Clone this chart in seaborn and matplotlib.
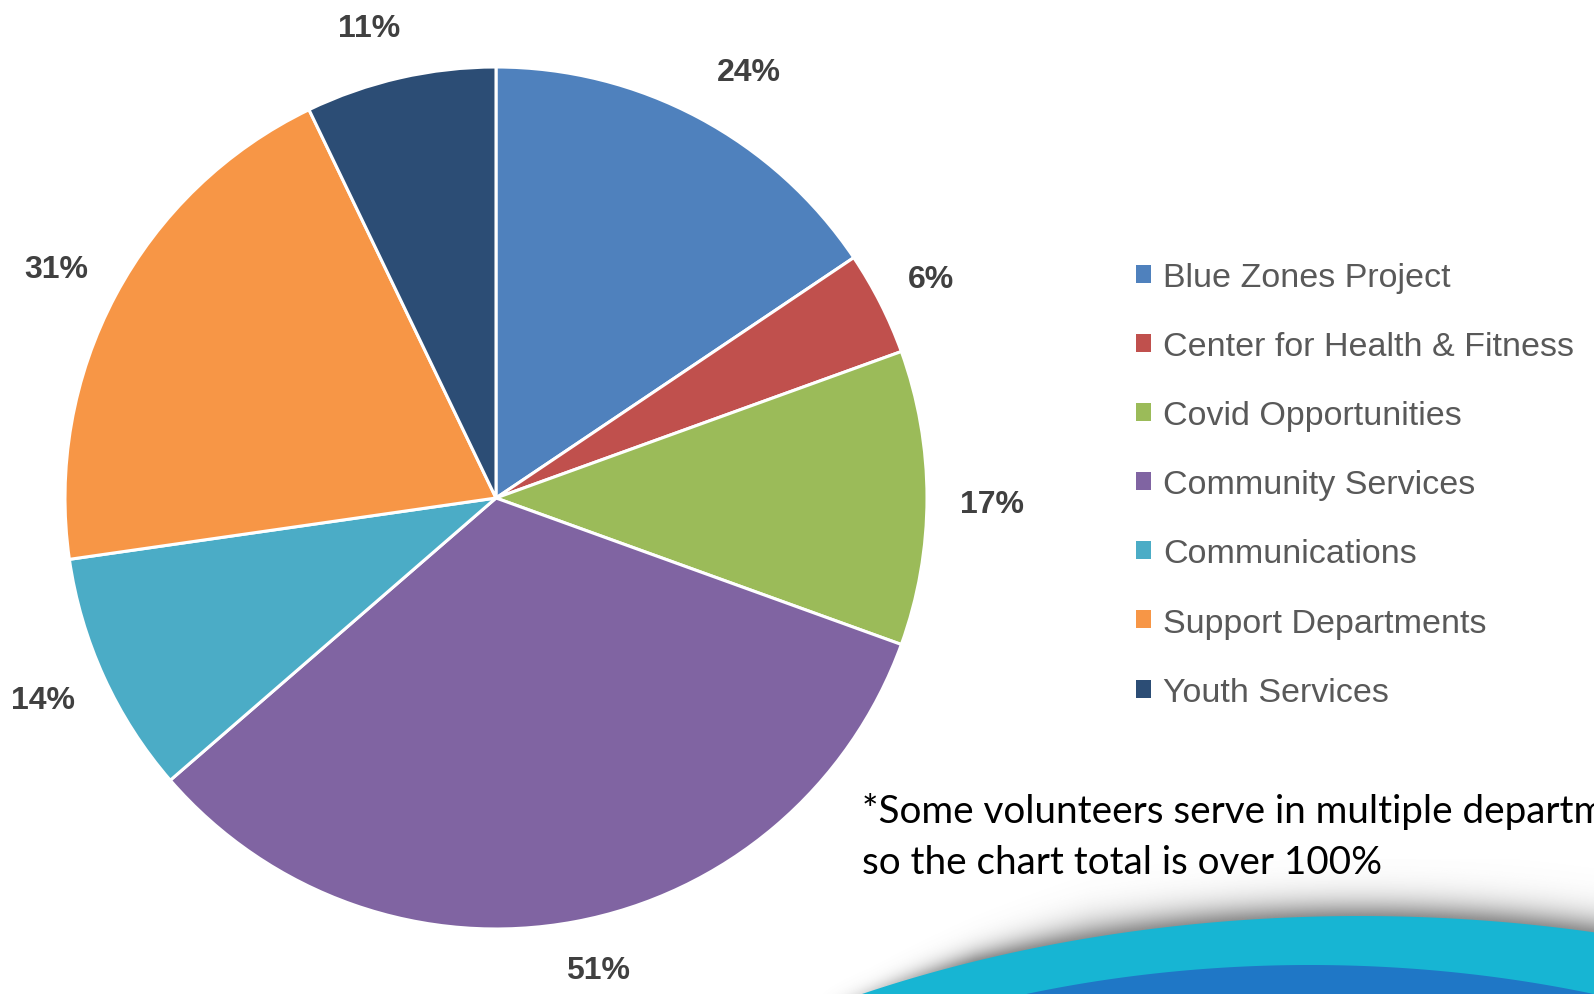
import matplotlib
matplotlib.use("Agg")
import numpy as np
import matplotlib.pyplot as plt
import seaborn as sns

# Volunteer share by department (a volunteer can count in several departments)
categories = [
    "Blue Zones Project",
    "Center for Health & Fitness",
    "Covid Opportunities",
    "Community Services",
    "Communications",
    "Support Departments",
    "Youth Services",
]
shares = [24, 6, 17, 51, 14, 31, 11]
share_labels = [f"{v}%" for v in shares]
slice_colors = ["#4F81BD", "#C0504D", "#9BBB59", "#8064A2", "#4BACC6", "#F79646", "#2C4D75"]
note_lines = [
    "*Some volunteers serve in multiple departments,",
    "so the chart total is over 100%",
]

# label placement: angular nudge (degrees) and distance in pie radii
label_nudge = [-2.6, -0.2, -0.7, 1.7, -0.5, 0.5, 2.2]
label_dist = [1.15, 1.13, 1.15, 1.12, 1.15, 1.15, 1.13]

sns.set_theme(style="white")
plt.rcParams["font.family"] = ["Liberation Sans", "DejaVu Sans"]

W, H = 1594, 995
fig = plt.figure(figsize=(W / 100, H / 100), dpi=100)
fig.patch.set_facecolor("white")
ax = fig.add_axes([0, 0, 1, 1])


def fy(y):
    """Convert a top-down pixel row to the axes' bottom-up y."""
    return H - y


pie_center = (496, fy(499))
pie_radius = 431

wedges, texts = ax.pie(
    shares,
    colors=slice_colors,
    labels=share_labels,
    startangle=90,
    counterclock=False,
    center=pie_center,
    radius=pie_radius,
    wedgeprops=dict(edgecolor="white", linewidth=2.2),
    textprops=dict(fontsize=23, fontweight="bold", color="#404040"),
)
for w, t, nudge, dist in zip(wedges, texts, label_nudge, label_dist):
    ang = np.deg2rad((w.theta1 + w.theta2) / 2 + nudge)
    t.set_position((pie_center[0] + dist * pie_radius * np.cos(ang),
                    pie_center[1] + dist * pie_radius * np.sin(ang)))
    t.set_ha("center")
    t.set_va("center")

leg = ax.legend(
    wedges,
    categories,
    loc="upper left",
    bbox_to_anchor=(1136 / W, 1 - 263 / H),
    bbox_transform=fig.transFigure,
    frameon=False,
    fontsize=24.5,
    labelcolor="#595959",
    handlelength=0.44,
    handleheight=0.44,
    handletextpad=0.35,
    labelspacing=1.12,
    borderpad=0,
    borderaxespad=0,
)
for h in leg.legend_handles:
    h.set_edgecolor("none")
    h.set_linewidth(0)

# footnote
for line, base in zip(note_lines, (823, 874)):
    ax.text(862, fy(base), line, fontsize=27.8, family=["Lato", "DejaVu Sans"],
            color="black", va="baseline", ha="left")

# decorative swoosh in the lower right corner: grey shadow, cyan band, blue band
x0, x1, y0, y1 = 700, W, 860, H
X, Y = np.meshgrid(np.arange(x0, x1) + 0.5, np.arange(y0, y1) + 0.5)


def arc_top(x, cx, ytop, a, b):
    u = np.clip((x - cx) / a, -1, 1)
    return ytop + b - b * np.sqrt(1 - u ** 2)


cyan_edge = arc_top(X, 1360, 917, 1010, 600)
blue_edge = arc_top(X, 1310, 966, 845, 500)
cov_c = np.clip(Y - cyan_edge + 0.5, 0, 1)
cov_b = np.clip(Y - blue_edge + 0.5, 0, 1)

dv = np.maximum(cyan_edge - Y, 0)
taper = np.clip((X - 830) / 260, 0.15, 1)
sigma = 6 + 12 * taper
shadow = 0.72 * np.clip((X - 815) / 160, 0.0, 1) * np.exp(-(dv / sigma) ** 1.3)

gray = np.array([0.40, 0.40, 0.40])
cyan = np.array([0x17, 0xB5, 0xD3]) / 255
blue = np.array([0x1F, 0x77, 0xC6]) / 255

a = shadow
rgb = np.broadcast_to(gray, X.shape + (3,)).copy()
for col, cov in ((cyan, cov_c), (blue, cov_b)):
    new_a = cov + a * (1 - cov)
    safe = np.where(new_a > 0, new_a, 1)
    rgb = (col * cov[..., None] + rgb * (a * (1 - cov))[..., None]) / safe[..., None]
    a = new_a
img = np.dstack([rgb, a])
ax.imshow(img, extent=(x0, x1, fy(y1), fy(y0)), origin="upper",
          interpolation="nearest", zorder=0.2)

ax.set_xlim(0, W)
ax.set_ylim(0, H)
ax.set_aspect("equal")
ax.axis("off")

fig.savefig("out.png", dpi=100, facecolor="white")
